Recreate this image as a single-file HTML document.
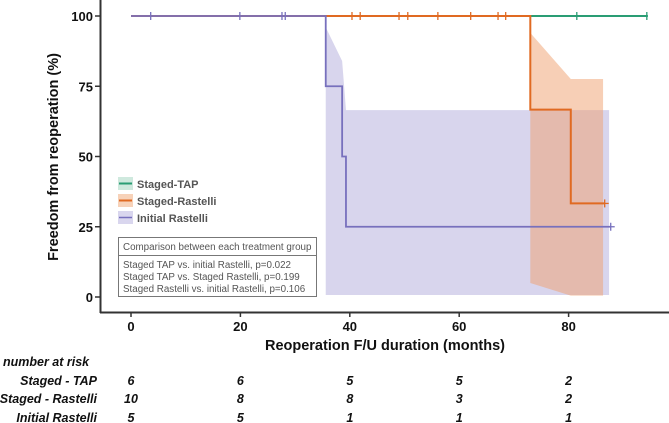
<!DOCTYPE html>
<html><head><meta charset="utf-8"><style>
html,body{margin:0;padding:0;background:#fff;}
svg{display:block;font-family:"Liberation Sans",Arial,sans-serif;}
</style></head><body>
<svg id="chart" width="669" height="423" viewBox="0 0 669 423">
<g id="bands"></g>
<g id="lines"></g>
<g id="axes"></g>
<text x="0" y="0" transform="translate(58,157) rotate(-90)" text-anchor="middle" font-size="14.5" font-weight="bold" fill="#111">Freedom from reoperation (%)</text>
<text x="385" y="350" text-anchor="middle" font-size="14.5" font-weight="bold" fill="#111">Reoperation F/U duration (months)</text>
<g>
 <g><rect x="118" y="177" width="15" height="13" fill="#cfe9de"/><line x1="119" y1="183.5" x2="132" y2="183.5" stroke="#2a9d74" stroke-width="2"/><text x="137" y="188" font-size="11" font-weight="bold" fill="#555">Staged-TAP</text></g>
 <g><rect x="118" y="194" width="15" height="13" fill="#f7d2b9"/><line x1="119" y1="200.5" x2="132" y2="200.5" stroke="#e06a22" stroke-width="2"/><text x="137" y="205" font-size="11" font-weight="bold" fill="#555">Staged-Rastelli</text></g>
 <g><rect x="118" y="211" width="15" height="13" fill="#d9d6ee"/><line x1="119" y1="217.5" x2="132" y2="217.5" stroke="#7770bd" stroke-width="1.5"/><text x="137" y="222" font-size="11" font-weight="bold" fill="#555">Initial Rastelli</text></g>
</g>
<g>
 <rect x="118.5" y="237.5" width="198" height="59" fill="#fff" stroke="#777" stroke-width="1"/>
 <line x1="118.5" y1="255.5" x2="316.5" y2="255.5" stroke="#777"/>
 <text x="123" y="250" font-size="9.8" fill="#555">Comparison between each treatment group</text>
 <text x="123" y="268" font-size="9.8" fill="#555">Staged TAP vs. initial Rastelli, p=0.022</text>
 <text x="123" y="280" font-size="9.8" fill="#555">Staged TAP vs. Staged Rastelli, p=0.199</text>
 <text x="123" y="292" font-size="9.8" fill="#555">Staged Rastelli vs. initial Rastelli, p=0.106</text>
</g>
<g id="risk" font-size="12.5" font-weight="bold" font-style="italic" fill="#111">
 <text x="3" y="366">number at risk</text>
</g>
</svg>
<script>
const xTicks=[0,20,40,60,80];
const yTicks=[0,25,50,75,100];
const tapTimes=[0,94.5];
const tapVals=[100,100];
const tapCensor=[81.5,94.3];
const srTimes=[0,73,80.4,86.6];
const srVals=[100,66.7,33.3,33.3];
const srCensor=[40.4,41.9,49,50.6,56.1,62.1,67.1,68.5,86.6];
const irTimes=[0,35.6,38.6,39.3,87.7];
const irVals=[100,75,50,25,25];
const irCensor=[3.6,19.9,27.6,28.2,87.7];
const irBandX=[35.6,38.6,39.3,87.4];
const irBandUp=[96,84,66.5,66.5];
const irBandLo=[0.7,0.7,0.7,0.7];
const srBandX=[73,80.4,86.3];
const srBandUp=[94,77.6,77.6];
const srBandLo=[5,0.5,0.5];
const riskGroups=["Staged - TAP","Staged - Rastelli","Initial Rastelli"];
const riskTap=[6,6,5,5,2];
const riskSR=[10,8,8,3,2];
const riskIR=[5,5,1,1,1];

const NS="http://www.w3.org/2000/svg";
const X=t=>131+t*5.47;
const Y=v=>297-v*2.81;
function mk(tag,attrs,parent){const e=document.createElementNS(NS,tag);for(const k in attrs)e.setAttribute(k,attrs[k]);parent.appendChild(e);return e;}
const bands=document.getElementById('bands'),lines=document.getElementById('lines'),axes=document.getElementById('axes'),risk=document.getElementById('risk');

function band(xs,up,lo,fill,name){
 let d='M'+X(xs[0])+','+Y(up[0]);
 for(let i=1;i<xs.length;i++)d+=' L'+X(xs[i])+','+Y(up[i]);
 for(let i=xs.length-1;i>=0;i--)d+=' L'+X(xs[i])+','+Y(lo[i]);
 const p=mk('path',{d:d+'Z',fill:fill},bands);
 
 
}
band(irBandX,irBandUp,irBandLo,'rgba(190,185,225,0.6)','initial-rastelli-ci');
band(srBandX,srBandUp,srBandLo,'rgba(240,160,110,0.5)','staged-rastelli-ci');

function curve(ts,vs,cens,color,w,name){
 let d='M'+X(ts[0])+','+Y(vs[0]);
 for(let i=1;i<ts.length;i++){d+=' H'+X(ts[i])+' V'+Y(vs[i]);}
 const p=mk('path',{d:d,fill:'none',stroke:color,'stroke-width':w},lines);
 
 
 cens.forEach(c=>{
  let v=vs[0];for(let i=0;i<ts.length;i++){if(ts[i]<=c)v=vs[i];}
  const l=mk('line',{x1:X(c),x2:X(c),y1:Y(v)-4,y2:Y(v)+4,stroke:color,'stroke-width':1.3},lines);
  
  
 });
 const last=ts.length-1;
 if(cens.indexOf(ts[last])>=0){
  const h=mk('line',{x1:X(ts[last])-4,x2:X(ts[last])+4,y1:Y(vs[last]),y2:Y(vs[last]),stroke:color,'stroke-width':1.3},lines);
  
  
 }
}
curve(tapTimes,tapVals,tapCensor,'#2a9d74',2,'staged-tap');
curve(srTimes,srVals,srCensor,'#e06a22',2,'staged-rastelli');
curve(irTimes,irVals,irCensor,'#7770bd',1.8,'initial-rastelli');

const ya=mk('line',{x1:100.5,x2:100.5,y1:0,y2:313,stroke:'#333','stroke-width':2},axes);


const xa=mk('line',{x1:100,x2:669,y1:312.5,y2:312.5,stroke:'#333','stroke-width':2},axes);


yTicks.forEach(v=>{
 mk('line',{x1:95,x2:100,y1:Y(v),y2:Y(v),stroke:'#333','stroke-width':1.5},axes);
 const t=mk('text',{x:93,y:Y(v)+5,'text-anchor':'end','font-size':13,'font-weight':'bold',fill:'#111'},axes);
 t.textContent=v;
 
 
});
xTicks.forEach(v=>{
 mk('line',{x1:X(v),x2:X(v),y1:313,y2:317,stroke:'#333','stroke-width':1.5},axes);
 const t=mk('text',{x:X(v),y:331,'text-anchor':'middle','font-size':13,'font-weight':'bold',fill:'#111'},axes);
 t.textContent=v;
 
 
});
const rows=[riskTap,riskSR,riskIR];
const rowY=[385,403,422];
rows.forEach((r,i)=>{
 const lab=mk('text',{x:97,y:rowY[i],'text-anchor':'end'},risk);
 lab.textContent=riskGroups[i];
 
 
 r.forEach((n,j)=>{
  const t=mk('text',{x:X(xTicks[j]),y:rowY[i],'text-anchor':'middle'},risk);
  t.textContent=n;
  
  
 });
});
</script>
</body></html>
